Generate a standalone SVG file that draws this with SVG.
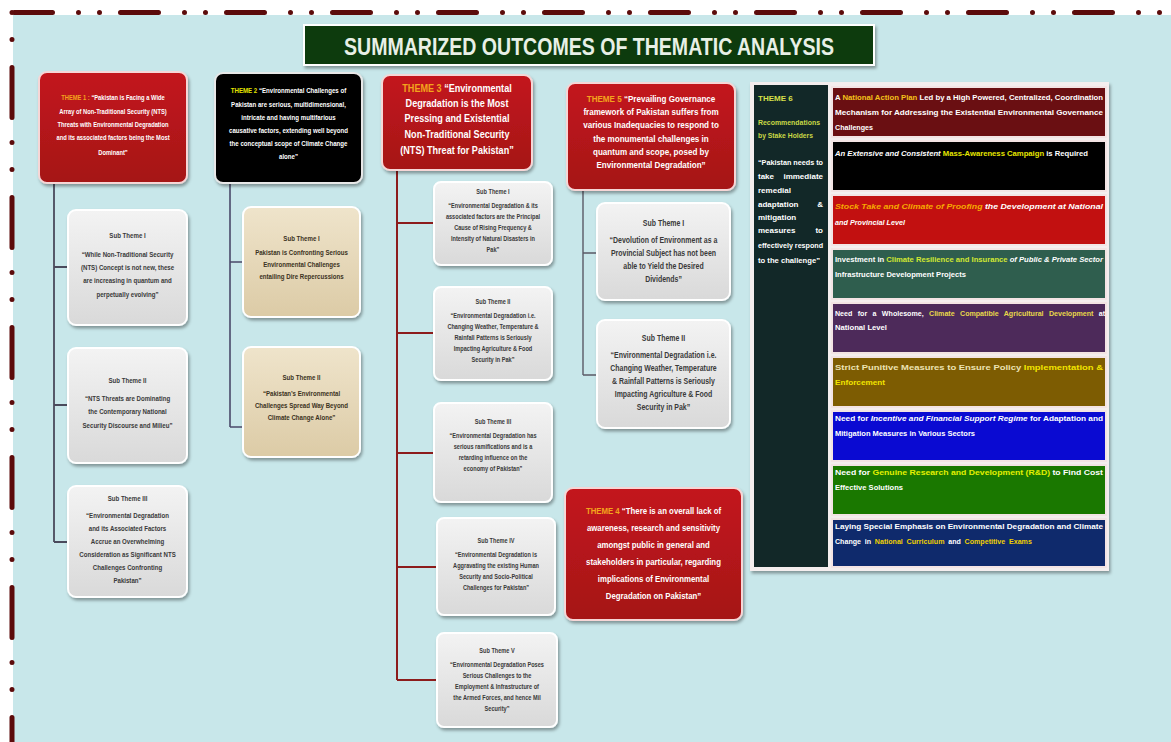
<svg xmlns="http://www.w3.org/2000/svg" width="1171" height="742" viewBox="0 0 1171 742">
<defs>
<filter id="sh" x="-10%" y="-10%" width="125%" height="130%">
<feDropShadow dx="1.5" dy="2.5" stdDeviation="1.6" flood-color="#000" flood-opacity="0.35"/>
</filter>
<linearGradient id="gGray" x1="0" y1="0" x2="0" y2="1">
<stop offset="0" stop-color="#f3f3f3"/><stop offset="1" stop-color="#d9d9d9"/>
</linearGradient>
<linearGradient id="gBeige" x1="0" y1="0" x2="0" y2="1">
<stop offset="0" stop-color="#efe4cb"/><stop offset="1" stop-color="#dccba6"/>
</linearGradient>
<linearGradient id="gRed" x1="0" y1="0" x2="0" y2="1">
<stop offset="0" stop-color="#c3171d"/><stop offset="1" stop-color="#a51217"/>
</linearGradient>
</defs>
<style>
.t{font-family:"Liberation Sans",Arial,Helvetica,sans-serif;font-weight:bold;}
.red{fill:url(#gRed);stroke:#f6d6d6;stroke-width:2;filter:url(#sh);}
.blk{fill:#050505;stroke:#e8e8e8;stroke-width:2;filter:url(#sh);}
.gray{fill:url(#gGray);stroke:#ffffff;stroke-width:2;filter:url(#sh);}
.beige{fill:url(#gBeige);stroke:#ffffff;stroke-width:2;filter:url(#sh);}
.row{stroke:#f3e4e4;stroke-width:2;}
.w{fill:#ffffff;}
.d{fill:#3a3a3a;}
.db{fill:#3b3222;}
.or{fill:#f3a41c;}
.ye{fill:#f2e400;}
.it{font-style:italic;}
</style>

<rect x="0" y="0" width="1171" height="742" fill="#ffffff"/>
<rect x="13" y="15" width="1158" height="727" fill="#c8e7ea"/>
<g id="border" fill="none" stroke="#5c0b0b" stroke-width="5" stroke-linecap="round">
<line x1="14.5" y1="12.5" x2="1171" y2="12.5" stroke-dasharray="38 26 0 21 0 21"/>
<line x1="12" y1="-62.5" x2="12" y2="742" stroke-dasharray="50 25 0 27 0 28"/>
</g>

<g id="connectors" fill="none">
<path d="M54 183 V542 M54 267 H68 M54 405 H68 M54 542 H68" stroke="#4a4a5c" stroke-width="1.8"/>
<path d="M230 183 V427 M230 262 H243 M230 427 H243" stroke="#4a4a6a" stroke-width="1.6"/>
<path d="M397 170 V680 M397 223 H434 M397 333 H434 M397 453 H434 M397 567 H437 M397 680 H437" stroke="#8c1c1c" stroke-width="2"/>
<path d="M583 190 V375 M583 253 H597 M583 375 H597" stroke="#5a5a66" stroke-width="1.4"/>
</g>

<g id="title">
<rect x="304" y="25" width="570" height="40" fill="#073a08" stroke="#ffffff" stroke-width="2" filter="url(#sh)"/>
<text class="t" x="589" y="55" font-size="24" text-anchor="middle" fill="#e8f0e6" textLength="490" lengthAdjust="spacingAndGlyphs">SUMMARIZED OUTCOMES OF THEMATIC ANALYSIS</text>
</g>

<g id="theme1">
<rect x="39" y="72" width="148" height="111" rx="8" class="red"/>
<g class="t w" transform="translate(113 0) scale(0.85 1)" font-size="6.8" text-anchor="middle">
<text y="100"><tspan class="or">THEME 1 :</tspan> “Pakistan is Facing a Wide</text>
<text y="114">Array of Non-Traditional Security (NTS)</text>
<text y="127">Threats with Environmental Degradation</text>
<text y="140">and its associated factors being the Most</text>
<text y="155">Dominant”</text>
</g>
</g>

<g id="t1s1">
<rect x="68" y="210" width="119" height="115" rx="8" class="gray"/>
<g class="t d" transform="translate(127.5 0) scale(0.85 1)" font-size="7.2" text-anchor="middle">
<text y="238">Sub Theme I</text>
<text y="257">“While Non-Traditional Security</text>
<text y="270">(NTS) Concept is not new, these</text>
<text y="283">are increasing in quantum and</text>
<text y="297">perpetually evolving”</text>
</g>
</g>
<g id="t1s2">
<rect x="68" y="348" width="119" height="115" rx="8" class="gray"/>
<g class="t d" transform="translate(127.5 0) scale(0.85 1)" font-size="7.2" text-anchor="middle">
<text y="383">Sub Theme II</text>
<text y="401">“NTS Threats are Dominating</text>
<text y="414">the Contemporary National</text>
<text y="428">Security Discourse and Milieu”</text>
</g>
</g>
<g id="t1s3">
<rect x="68" y="486" width="119" height="111" rx="8" class="gray"/>
<g class="t d" transform="translate(127.5 0) scale(0.85 1)" font-size="7.2" text-anchor="middle">
<text y="501">Sub Theme III</text>
<text y="518">“Environmental Degradation</text>
<text y="531">and its Associated Factors</text>
<text y="544">Accrue an Overwhelming</text>
<text y="557">Consideration as Significant NTS</text>
<text y="570">Challenges Confronting</text>
<text y="583">Pakistan”</text>
</g>
</g>

<g id="theme2">
<rect x="215" y="73" width="147" height="110" rx="8" class="blk"/>
<g class="t w" transform="translate(288.5 0) scale(0.85 1)" font-size="7.2" text-anchor="middle">
<text y="93"><tspan fill="#e6e600">THEME 2</tspan> “Environmental Challenges of</text>
<text y="107">Pakistan are serious, multidimensional,</text>
<text y="120">intricate and having multifarious</text>
<text y="133">causative factors, extending well beyond</text>
<text y="146">the conceptual scope of Climate Change</text>
<text y="159">alone”</text>
</g>
</g>
<g id="t2s1">
<rect x="243" y="207" width="117" height="110" rx="8" class="beige"/>
<g class="t db" transform="translate(301.5 0) scale(0.85 1)" font-size="7.2" text-anchor="middle">
<text y="241">Sub Theme I</text>
<text y="255">Pakistan is Confronting Serious</text>
<text y="267">Environmental Challenges</text>
<text y="279">entailing Dire Repercussions</text>
</g>
</g>
<g id="t2s2">
<rect x="243" y="347" width="117" height="110" rx="8" class="beige"/>
<g class="t db" transform="translate(301.5 0) scale(0.85 1)" font-size="7.2" text-anchor="middle">
<text y="380">Sub Theme II</text>
<text y="396">“Pakistan’s Environmental</text>
<text y="408">Challenges Spread Way Beyond</text>
<text y="420">Climate Change Alone”</text>
</g>
</g>

<g id="theme3">
<rect x="382" y="75" width="150" height="95" rx="8" class="red"/>
<g class="t w" transform="translate(457 0) scale(0.85 1)" font-size="10.7" text-anchor="middle">
<text y="92"><tspan class="or">THEME 3</tspan> “Environmental</text>
<text y="107">Degradation is the Most</text>
<text y="122.5">Pressing and Existential</text>
<text y="138">Non-Traditional Security</text>
<text y="154">(NTS) Threat for Pakistan”</text>
</g>
</g>
<g id="t3s1">
<rect x="434" y="182" width="118" height="83" rx="7" class="gray"/>
<g class="t d" transform="translate(493 0) scale(0.85 1)" font-size="6.6" text-anchor="middle">
<text y="194">Sub Theme I</text>
<text y="208">“Environmental Degradation &amp; its</text>
<text y="219">associated factors are the Principal</text>
<text y="230">Cause of Rising Frequency &amp;</text>
<text y="241">Intensity of Natural Disasters in</text>
<text y="252">Pak”</text>
</g>
</g>
<g id="t3s2">
<rect x="434" y="287" width="118" height="93" rx="7" class="gray"/>
<g class="t d" transform="translate(493 0) scale(0.85 1)" font-size="6.6" text-anchor="middle">
<text y="304">Sub Theme II</text>
<text y="318">“Environmental Degradation i.e.</text>
<text y="329">Changing Weather, Temperature &amp;</text>
<text y="340">Rainfall Patterns is Seriously</text>
<text y="351">Impacting Agriculture &amp; Food</text>
<text y="362">Security in Pak”</text>
</g>
</g>
<g id="t3s3">
<rect x="434" y="403" width="118" height="99" rx="7" class="gray"/>
<g class="t d" transform="translate(493 0) scale(0.85 1)" font-size="6.6" text-anchor="middle">
<text y="424">Sub Theme III</text>
<text y="438">“Environmental Degradation has</text>
<text y="449">serious ramifications and is a</text>
<text y="460">retarding influence on the</text>
<text y="471">economy of Pakistan”</text>
</g>
</g>
<g id="t3s4">
<rect x="437" y="518" width="118" height="97" rx="7" class="gray"/>
<g class="t d" transform="translate(496 0) scale(0.85 1)" font-size="6.6" text-anchor="middle">
<text y="543">Sub Theme IV</text>
<text y="557">“Environmental Degradation is</text>
<text y="568">Aggravating the existing Human</text>
<text y="579">Security and Socio-Political</text>
<text y="590">Challenges for Pakistan”</text>
</g>
</g>
<g id="t3s5">
<rect x="437" y="633" width="120" height="94" rx="7" class="gray"/>
<g class="t d" transform="translate(497 0) scale(0.85 1)" font-size="6.6" text-anchor="middle">
<text y="653">Sub Theme V</text>
<text y="667">“Environmental Degradation Poses</text>
<text y="678">Serious Challenges to the</text>
<text y="689">Employment &amp; Infrastructure of</text>
<text y="700">the Armed Forces, and hence Mil</text>
<text y="711">Security”</text>
</g>
</g>

<g id="theme5">
<rect x="567" y="83" width="168" height="107" rx="8" class="red"/>
<g class="t w" transform="translate(651 0) scale(0.85 1)" font-size="9.5" text-anchor="middle">
<text y="102"><tspan class="or">THEME 5</tspan> “Prevailing Governance</text>
<text y="115">framework of Pakistan suffers from</text>
<text y="128.5">various Inadequacies to respond to</text>
<text y="142">the monumental challenges in</text>
<text y="155">quantum and scope, posed by</text>
<text y="168.5">Environmental Degradation”</text>
</g>
</g>
<g id="t5s1">
<rect x="597" y="203" width="133" height="97" rx="8" class="gray"/>
<g class="t d" transform="translate(663.5 0) scale(0.85 1)" font-size="8.2" text-anchor="middle">
<text y="226">Sub Theme I</text>
<text y="243">“Devolution of Environment as a</text>
<text y="256">Provincial Subject has not been</text>
<text y="269">able to Yield the Desired</text>
<text y="282">Dividends”</text>
</g>
</g>
<g id="t5s2">
<rect x="597" y="320" width="133" height="108" rx="8" class="gray"/>
<g class="t d" transform="translate(663.5 0) scale(0.85 1)" font-size="8.2" text-anchor="middle">
<text y="341">Sub Theme II</text>
<text y="358">“Environmental Degradation i.e.</text>
<text y="371">Changing Weather, Temperature</text>
<text y="384">&amp; Rainfall Patterns is Seriously</text>
<text y="397">Impacting Agriculture &amp; Food</text>
<text y="410">Security in Pak”</text>
</g>
</g>

<g id="theme4">
<rect x="565" y="488" width="177" height="132" rx="8" class="red"/>
<g class="t w" transform="translate(653.5 0) scale(0.85 1)" font-size="9.2" text-anchor="middle">
<text y="514"><tspan class="or">THEME 4</tspan> “There is an overall lack of</text>
<text y="531">awareness, research and sensitivity</text>
<text y="548">amongst public in general and</text>
<text y="565">stakeholders in particular, regarding</text>
<text y="582">implications of Environmental</text>
<text y="599">Degradation on Pakistan”</text>
</g>
</g>

<g id="theme6panel">
<rect x="750" y="82" width="359" height="489" fill="#f4eeee" filter="url(#sh)"/>
</g>
<g id="theme6">
<rect x="754" y="85" width="74" height="482" fill="#122828"/>
<g class="t" font-size="8" fill="#ffffff">
<text x="758" y="101" fill="#d8e04a">THEME 6</text>
<text x="758" y="125" fill="#c9d846" textLength="62" lengthAdjust="spacingAndGlyphs">Recommendations</text>
<text x="758" y="138" fill="#c9d846" textLength="55" lengthAdjust="spacingAndGlyphs">by Stake Holders</text>
<text x="758" y="165" textLength="65" lengthAdjust="spacingAndGlyphs">“Pakistan needs to</text>
<text x="758" y="179">take</text><text x="823" y="179" text-anchor="end">immediate</text>
<text x="758" y="193">remedial</text>
<text x="758" y="207">adaptation</text><text x="823" y="207" text-anchor="end">&amp;</text>
<text x="758" y="220">mitigation</text>
<text x="758" y="233">measures</text><text x="823" y="233" text-anchor="end">to</text>
<text x="758" y="248" textLength="65" lengthAdjust="spacingAndGlyphs">effectively respond</text>
<text x="758" y="263" textLength="62" lengthAdjust="spacingAndGlyphs">to the challenge”</text>
</g>
</g>

<g id="rec1">
<rect x="832" y="87" width="274" height="50" fill="#6a0f12" class="row"/>
<g class="t w" font-size="8">
<text x="835" y="100" textLength="268" lengthAdjust="spacingAndGlyphs">A <tspan fill="#f4c21a">National Action Plan</tspan> Led by a High Powered, Centralized, Coordination</text>
<text x="835" y="115" textLength="268" lengthAdjust="spacingAndGlyphs">Mechanism for Addressing the Existential Environmental Governance</text>
<text x="835" y="130" textLength="38" lengthAdjust="spacingAndGlyphs">Challenges</text>
</g>
</g>
<g id="rec2">
<rect x="832" y="141" width="274" height="50" fill="#000000" class="row"/>
<g class="t w" font-size="8">
<text x="835" y="156" textLength="253" lengthAdjust="spacingAndGlyphs"><tspan class="it">An Extensive and Consistent </tspan><tspan fill="#e6e600">Mass-Awareness Campaign</tspan> is Required</text>
</g>
</g>
<g id="rec3">
<rect x="832" y="195" width="274" height="50" fill="#c21010" class="row"/>
<g class="t w it" font-size="8">
<text x="835" y="209" textLength="268" lengthAdjust="spacingAndGlyphs"><tspan fill="#f6a800">Stock Take and Climate of Proofing</tspan> the Development at National</text>
<text x="835" y="225" textLength="70" lengthAdjust="spacingAndGlyphs">and Provincial Level</text>
</g>
</g>
<g id="rec4">
<rect x="832" y="249" width="274" height="50" fill="#2f5e4e" class="row"/>
<g class="t w" font-size="8">
<text x="835" y="262" textLength="268" lengthAdjust="spacingAndGlyphs">Investment in <tspan fill="#d2e832">Climate Resilience and Insurance</tspan> <tspan class="it">of Public &amp; Private Sector</tspan></text>
<text x="835" y="277" textLength="131" lengthAdjust="spacingAndGlyphs">Infrastructure Development Projects</text>
</g>
</g>
<g id="rec5">
<rect x="832" y="303" width="274" height="50" fill="#4d2a5a" class="row"/>
<g class="t w" font-size="7.1">
<text x="835" y="316" word-spacing="3.4">Need for a Wholesome, <tspan fill="#e8d84a">Climate Compatible Agricultural Development</tspan> at</text>
<text x="835" y="330" font-size="8" textLength="52" lengthAdjust="spacingAndGlyphs">National Level</text>
</g>
</g>
<g id="rec6">
<rect x="832" y="357" width="274" height="50" fill="#7d5c02" class="row"/>
<g class="t" font-size="8">
<text x="835" y="370" textLength="268" lengthAdjust="spacingAndGlyphs"><tspan fill="#ece3b4">Strict Punitive Measures to Ensure Policy </tspan><tspan fill="#f2e400">Implementation &amp;</tspan></text>
<text x="835" y="385" textLength="50" lengthAdjust="spacingAndGlyphs" fill="#f2e400">Enforcement</text>
</g>
</g>
<g id="rec7">
<rect x="832" y="411" width="274" height="50" fill="#0a0ad2" class="row"/>
<g class="t w" font-size="8">
<text x="835" y="421" textLength="268" lengthAdjust="spacingAndGlyphs">Need for <tspan class="it">Incentive and Financial Support Regime</tspan> for Adaptation and</text>
<text x="835" y="436" textLength="140" lengthAdjust="spacingAndGlyphs">Mitigation Measures in Various Sectors</text>
</g>
</g>
<g id="rec8">
<rect x="832" y="465" width="274" height="50" fill="#1a7800" class="row"/>
<g class="t w" font-size="8">
<text x="835" y="475" textLength="268" lengthAdjust="spacingAndGlyphs">Need for <tspan fill="#e2f000">Genuine Research and Development (R&amp;D)</tspan> to Find Cost</text>
<text x="835" y="490" textLength="68" lengthAdjust="spacingAndGlyphs">Effective Solutions</text>
</g>
</g>
<g id="rec9">
<rect x="832" y="519" width="274" height="48" fill="#0f2a6c" class="row"/>
<g class="t w" font-size="8">
<text x="835" y="529" textLength="268" lengthAdjust="spacingAndGlyphs">Laying Special Emphasis on Environmental Degradation and Climate</text>
<text x="835" y="544" font-size="7.1" word-spacing="1.8">Change in <tspan fill="#f0d000">National Curriculum</tspan> and <tspan fill="#f0d000">Competitive Exams</tspan></text>
</g>
</g>
</svg>
